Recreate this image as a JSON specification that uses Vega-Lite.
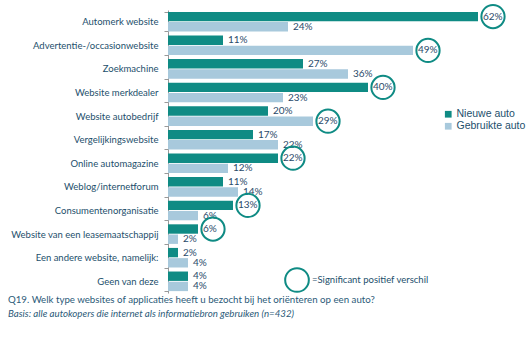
{
 "$schema": "https://vega.github.io/schema/vega-lite/v6.json",
 "width": 330, "height": 283,
 "padding": {"left": 8, "top": 0, "right": 0, "bottom": 0},
 "autosize": {"type": "pad"},
 "background": "white",
 "config": {"view": {"stroke": null}, "font": "Lato"},
 "title": {"text": "Q19. Welk type websites of applicaties heeft u bezocht bij het oriënteren op een auto?", "subtitle": "Basis: alle autokopers  die internet als informatiebron gebruiken (n=432)", "orient": "bottom", "anchor": "start", "frame": "bounds", "fontSize": 9.7, "fontWeight": "normal", "subtitleFontStyle": "italic", "subtitleFontSize": 9.7, "color": "#2b5a78", "subtitleColor": "#2b5a78", "offset": -1, "subtitlePadding": 4, "font": "Lato", "subtitleFont": "Lato"},
 "data": {"values": [
  {"cat": "Automerk website", "series": "Nieuwe auto", "value": 0.62, "sig": true},
  {"cat": "Automerk website", "series": "Gebruikte auto", "value": 0.24, "sig": false},
  {"cat": "Advertentie-/occasionwebsite", "series": "Nieuwe auto", "value": 0.11, "sig": false},
  {"cat": "Advertentie-/occasionwebsite", "series": "Gebruikte auto", "value": 0.49, "sig": true},
  {"cat": "Zoekmachine", "series": "Nieuwe auto", "value": 0.27, "sig": false},
  {"cat": "Zoekmachine", "series": "Gebruikte auto", "value": 0.36, "sig": false},
  {"cat": "Website merkdealer", "series": "Nieuwe auto", "value": 0.40, "sig": true},
  {"cat": "Website merkdealer", "series": "Gebruikte auto", "value": 0.23, "sig": false},
  {"cat": "Website autobedrijf", "series": "Nieuwe auto", "value": 0.20, "sig": false},
  {"cat": "Website autobedrijf", "series": "Gebruikte auto", "value": 0.29, "sig": true},
  {"cat": "Vergelijkingswebsite", "series": "Nieuwe auto", "value": 0.17, "sig": false},
  {"cat": "Vergelijkingswebsite", "series": "Gebruikte auto", "value": 0.22, "sig": false},
  {"cat": "Online automagazine", "series": "Nieuwe auto", "value": 0.22, "sig": true},
  {"cat": "Online automagazine", "series": "Gebruikte auto", "value": 0.12, "sig": false},
  {"cat": "Weblog/internetforum", "series": "Nieuwe auto", "value": 0.11, "sig": false},
  {"cat": "Weblog/internetforum", "series": "Gebruikte auto", "value": 0.14, "sig": false},
  {"cat": "Consumentenorganisatie", "series": "Nieuwe auto", "value": 0.13, "sig": true},
  {"cat": "Consumentenorganisatie", "series": "Gebruikte auto", "value": 0.06, "sig": false},
  {"cat": "Website van een leasemaatschappij", "series": "Nieuwe auto", "value": 0.06, "sig": true},
  {"cat": "Website van een leasemaatschappij", "series": "Gebruikte auto", "value": 0.02, "sig": false},
  {"cat": "Een andere website, namelijk:", "series": "Nieuwe auto", "value": 0.02, "sig": false},
  {"cat": "Een andere website, namelijk:", "series": "Gebruikte auto", "value": 0.04, "sig": false},
  {"cat": "Geen van deze", "series": "Nieuwe auto", "value": 0.04, "sig": false},
  {"cat": "Geen van deze", "series": "Gebruikte auto", "value": 0.04, "sig": false}
 ]},
 "encoding": {
  "y": {"field": "cat", "type": "nominal", "sort": null, "scale": {"paddingInner": 0.17, "paddingOuter": 0.08},
   "axis": {"title": null, "labelFontSize": 9.5, "labelColor": "#1d4f6c", "labelFont": "Lato", "domainColor": "#999999", "tickColor": "#999999", "tickSize": 4, "tickBand": "extent", "labelPadding": 6, "minExtent": 160, "maxExtent": 160, "labelLimit": 200}},
  "yOffset": {"field": "series", "sort": ["Nieuwe auto", "Gebruikte auto"], "scale": {"paddingInner": 0.08}},
  "x": {"field": "value", "type": "quantitative", "scale": {"domain": [0, 0.66]}, "axis": null}
 },
 "layer": [
  {"mark": {"type": "bar"},
   "encoding": {"color": {"field": "series", "sort": ["Nieuwe auto", "Gebruikte auto"], "scale": {"domain": ["Nieuwe auto", "Gebruikte auto"], "range": ["#0f8b84", "#a8c9dc"]},
    "legend": {"title": null, "orient": "none", "legendX": 275, "legendY": 99, "symbolType": "square", "symbolSize": 45, "labelFontSize": 10.5, "labelFont": "Liberation Sans", "labelColor": "#1d4f6c", "rowPadding": 1, "labelOffset": 3}}}},
  {"mark": {"type": "text", "align": "left", "dx": 5, "fontSize": 10, "color": "#2a4a6a", "font": "Lato"},
   "encoding": {"text": {"field": "value", "type": "quantitative", "format": ".0%"}}},
  {"transform": [{"filter": "datum.sig"}],
   "mark": {"type": "point", "shape": "circle", "size": 540, "strokeWidth": 2, "filled": false, "xOffset": 15, "opacity": 1},
   "encoding": {"stroke": {"datum": "=Significant positief verschil", "scale": {"range": ["#0f8b84"]},
    "legend": {"title": null, "orient": "none", "legendX": 116, "legendY": 257, "symbolSize": 560, "symbolStrokeWidth": 2, "symbolType": "circle", "labelFontSize": 9.5, "labelColor": "#1d4f6c", "labelOffset": 2, "labelFont": "Lato"}}}}
 ]
}
